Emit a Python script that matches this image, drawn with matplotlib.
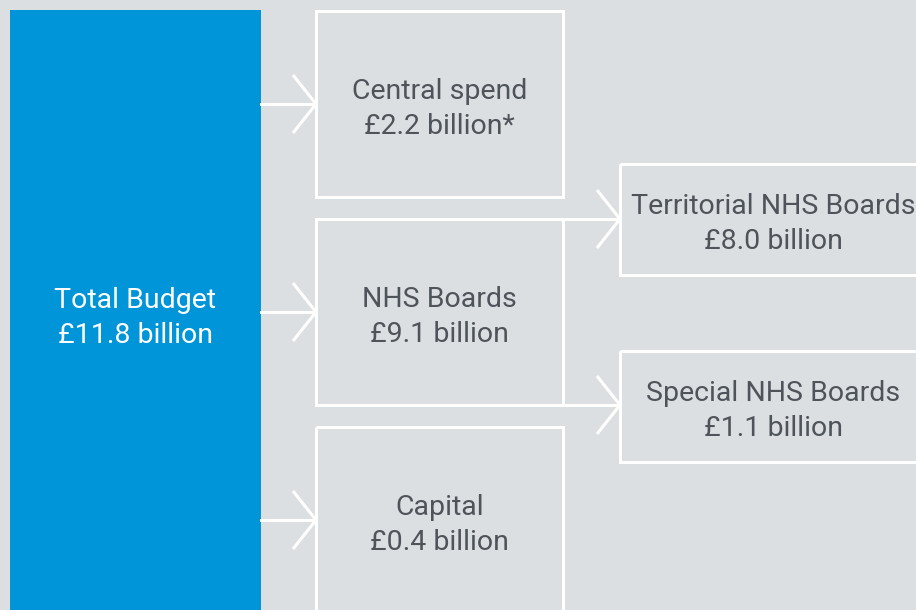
import matplotlib.pyplot as plt
from matplotlib.patches import Rectangle

plt.rcParams['font.family'] = ['Roboto', 'DejaVu Sans']

# budget items (label, value in £ billion)
total_label = "Total Budget"
total_value = 11.8
tier1_labels = ["Central spend", "NHS Boards", "Capital"]
tier1_values = [2.2, 9.1, 0.4]
tier1_notes = ["*", "", ""]
tier2_labels = ["Territorial NHS Boards", "Special NHS Boards"]
tier2_values = [8.0, 1.1]

BG = '#dcdfe2'
BLUE = '#0095d9'
TXT = '#4e5459'
W = 916
H = 610

fig = plt.figure(figsize=(W / 100, H / 100), dpi=100, facecolor=BG)
ax = fig.add_axes([0, 0, 1, 1])
ax.set_xlim(0, W)
ax.set_ylim(H, 0)
ax.axis('off')
ax.set_facecolor(BG)

lw = 2.2
fs = 20.5


def chevron(x, y):
    ax.plot([x - 23, x, x - 23], [y - 29, y, y + 29], color='white', lw=lw,
            solid_capstyle='butt', solid_joinstyle='miter')


def two_lines(x, y, top, bottom, color):
    for dy, s in ((-17.5, top), (17.5, bottom)):
        ax.text(x, y + dy, s, ha='center', va='center_baseline', fontsize=fs,
                color=color, fontweight='normal')


# total budget block
ax.add_patch(Rectangle((10, 10), 251, H, facecolor=BLUE, edgecolor='none'))
two_lines(135, 315, total_label, f"£{total_value:.1f} billion", 'white')

# first tier boxes
box_tops = [11, 219, 427]
box_h = 186
for top, lab, val, note in zip(box_tops, tier1_labels, tier1_values, tier1_notes):
    ax.add_patch(Rectangle((316, top), 247, box_h if top < 400 else H,
                           facecolor='none', edgecolor='white', lw=lw))
    cy = top + 93
    ax.plot([261, 316], [cy, cy], color='white', lw=lw)
    chevron(316, cy)
    two_lines(439.5, cy + 2, lab, f"£{val:.1f} billion{note}", TXT)

# second tier boxes, fed from NHS Boards edges
feed_y = [219, 405]
t2_tops = [164, 351]
for fy, top, lab, val in zip(feed_y, t2_tops, tier2_labels, tier2_values):
    ax.add_patch(Rectangle((620, top), 400, 111,
                           facecolor='none', edgecolor='white', lw=lw))
    ax.plot([563, 620], [fy, fy], color='white', lw=lw)
    chevron(620, fy)
    two_lines(773.5, top + 57, lab, f"£{val:.1f} billion", TXT)

fig.savefig('out.png', dpi=100, facecolor=BG)
